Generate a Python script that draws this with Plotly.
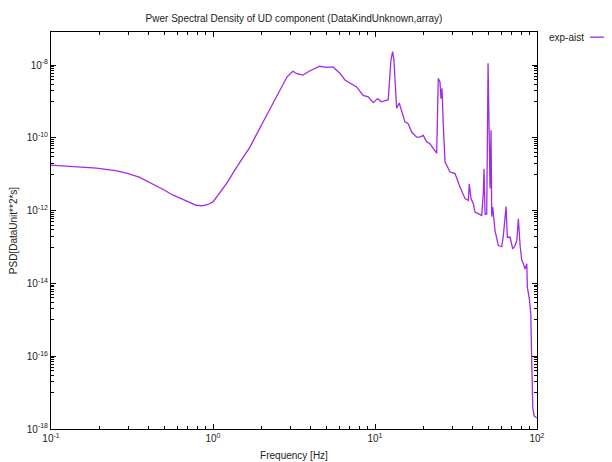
import plotly.graph_objects as go

# ---- data ----
freq_hz = [0.1, 0.15, 0.191, 0.25, 0.293, 0.35, 0.389, 0.45, 0.5, 0.563, 0.65, 0.7, 0.79, 0.863,
           0.93, 1.0, 1.1, 1.22, 1.4, 1.69, 2.0, 2.34, 2.6, 2.86, 3.11, 3.3, 3.58, 4.0, 4.56, 5.02,
           5.5, 5.65, 6.07, 6.52, 7.0, 7.7, 8.45, 9.08, 9.75, 10.38, 10.98, 11.8, 12.07, 12.54,
           12.85, 13.09, 13.6, 14.11, 14.6, 15.3, 16.04, 16.84, 18.08, 18.95, 19.86, 20.84, 21.84,
           23.12, 24.03, 24.58, 25.18, 25.54, 25.91, 26.39, 27.04, 29.04, 31.18, 33.47, 35.95,
           37.67, 38.21, 39.14, 40.45, 41.44, 43.43, 45.58, 46.63, 47.1, 47.78, 48.95, 49.87,
           50.58, 51.3, 52.03, 52.55, 53.3, 55.08, 57.73, 60.59, 61.99, 64.42, 65.61, 68.19,
           70.86, 73.24, 75.04, 76.74, 78.63, 80.54, 82.4, 84.41, 86.48, 87.22, 89.75, 90.64,
           91.55, 92.87, 94.19, 95.96, 99.7, 100.0]

psd = [1.78e-11, 1.62e-11, 1.48e-11, 1.26e-11, 1.07e-11, 8.3e-12, 6.5e-12, 4.8e-12, 3.7e-12,
       2.7e-12, 2.04e-12, 1.78e-12, 1.41e-12, 1.35e-12, 1.48e-12, 1.74e-12, 3.1e-12, 5.8e-12,
       1.58e-11, 5.6e-11, 2.34e-10, 9.1e-10, 2.14e-9, 4.7e-9, 6.8e-9, 5.8e-9, 5.3e-9, 7.1e-9,
       9.3e-9, 8.7e-9, 8.9e-9, 8.1e-9, 6.0e-9, 3.9e-9, 3.24e-9, 2.51e-9, 1.48e-9, 1.35e-9,
       9.3e-10, 1.2e-9, 9.8e-10, 1.12e-9, 1.12e-9, 1.38e-8, 2.34e-8, 1.38e-8, 6.5e-10, 9.1e-10,
       5.8e-10, 2.75e-10, 2.45e-10, 1.45e-10, 1.05e-10, 1.05e-10, 1.17e-10, 7.8e-11, 6.9e-11,
       5.0e-11, 3.8e-11, 4.3e-9, 3.5e-9, 1.2e-9, 2.3e-9, 2.45e-10, 2.2e-11, 1.15e-11, 1.05e-11,
       4.5e-12, 2.14e-12, 1.9e-12, 5.5e-12, 2.14e-12, 1.55e-12, 9.1e-13, 8.1e-13, 7.4e-13,
       3.0e-12, 1.41e-11, 8.1e-13, 8.1e-13, 1.12e-8, 2.0e-10, 4.1e-12, 1.62e-10, 6.8e-13,
       1.26e-12, 2.8e-13, 1.1e-13, 1.02e-13, 2.1e-13, 1.29e-12, 1.86e-13, 1.86e-13, 8.9e-14,
       1.1e-13, 1.51e-13, 6.0e-13, 1.1e-13, 4.3e-14, 3.5e-14, 2.5e-14, 3.5e-14, 7.8e-15,
       3.7e-15, 1.78e-15, 1.45e-15, 6.0e-17, 3.9e-18, 2.3e-18, 2.04e-18, 2.0e-18]

series_name = "exp-aist"
x_tick_vals = [0.1, 1, 10, 100]
x_tick_text = ["10<sup>-1</sup>", "10<sup>0</sup>", "10<sup>1</sup>", "10<sup>2</sup>"]
y_tick_vals = [1e-18, 1e-16, 1e-14, 1e-12, 1e-10, 1e-8]
y_tick_text = ["10<sup>-18</sup>", "10<sup>-16</sup>", "10<sup>-14</sup>",
               "10<sup>-12</sup>", "10<sup>-10</sup>", "10<sup>-8</sup>"]

LINE_COLOR = "#a02be6"
TXT = "#222222"
FONT = "Liberation Sans, Arial, sans-serif"

x_minor = [k * 10.0 ** e for e in range(-1, 2) for k in range(2, 10)]
y_minor = [k * 10.0 ** e for e in (-17, -15, -13, -11, -9) for k in range(1, 10)]

fig = go.Figure()
fig.add_trace(go.Scatter(x=freq_hz, y=psd, mode="lines", name=series_name,
                         line=dict(color=LINE_COLOR, width=1.3), showlegend=False))

axis_common = dict(showgrid=False, zeroline=False, showline=True, linecolor="black",
                   linewidth=1, mirror="ticks", ticks="inside", ticklen=5, automargin=False,
                   tickcolor="black", tickfont=dict(family=FONT, size=10, color=TXT))

fig.update_xaxes(type="log", range=[-1, 2], tickmode="array", tickvals=x_tick_vals,
                 ticktext=x_tick_text,
                 minor=dict(tickvals=x_minor, ticks="inside", ticklen=3, tickcolor="black"),
                 title=dict(text="Frequency [Hz]", font=dict(family=FONT, size=10, color=TXT),
                            standoff=8),
                 **axis_common)
fig.update_yaxes(type="log", range=[-18, -7.09], tickmode="array", tickvals=y_tick_vals,
                 ticktext=y_tick_text,
                 minor=dict(tickvals=y_minor, ticks="inside", ticklen=3, tickcolor="black"),
                 title=dict(text="PSD[DataUnit**2*s]", font=dict(family=FONT, size=10, color=TXT),
                            standoff=9),
                 **axis_common)

# legend drawn gnuplot-style: text, then line sample
fig.add_annotation(text=series_name, xref="paper", yref="paper", x=1.1008, y=0.987,
                   xanchor="right", yanchor="middle", showarrow=False,
                   font=dict(family=FONT, size=10, color=TXT))
fig.add_shape(type="line", xref="paper", yref="paper", x0=1.109, x1=1.16, y0=0.987, y1=0.987,
              line=dict(color=LINE_COLOR, width=1.3))

# the page body adds an 8 px offset, so margins are shifted by 8 px
fig.update_layout(
    width=612, height=462,
    margin=dict(l=43, r=83, t=24, b=41, autoexpand=False),
    paper_bgcolor="white", plot_bgcolor="white",
    title=dict(text="Pwer Spectral Density of UD component (DataKindUnknown,array)",
               x=0.5, xref="paper", y=1 - 10 / 462, yanchor="middle", automargin=False,
               font=dict(family=FONT, size=10, color=TXT)),
)

fig.write_html("out.html")
